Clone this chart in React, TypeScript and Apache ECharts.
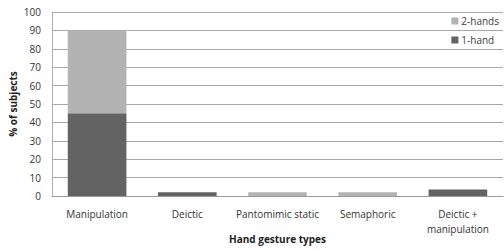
import React, { useEffect, useRef } from "react";
import * as echarts from "echarts";

const categories = ["Manipulation", "Deictic", "Pantomimic static", "Semaphoric", "Deictic +\nmanipulation"];
const oneHand = [45, 2, 0, 0, 3.6];
const twoHands = [45, 0, 2, 2, 0];
const yTicks = { min: 0, max: 100, interval: 10 };

export default function App() {
  const ref = useRef<HTMLDivElement>(null);
  useEffect(() => {
    if (!ref.current) return;
    const chart = echarts.init(ref.current, undefined, { renderer: "svg" });
    const font = "'Open Sans', 'Liberation Sans', sans-serif";
    chart.setOption({
      animation: false,
      backgroundColor: "#ffffff",
      textStyle: { fontFamily: font },
      grid: { left: 52, right: 1, top: 12, bottom: 55, containLabel: false, outerBoundsMode: "none" },
      legend: {
        orient: "vertical",
        right: 0,
        top: 11,
        itemWidth: 7,
        itemHeight: 7,
        itemGap: 9,
        icon: "rect",
        textStyle: { fontSize: 10, color: "#404040", fontFamily: font, padding: [0, 0, 0, -2] },
        data: ["2-hands", "1-hand"],
      },
      xAxis: {
        type: "category",
        data: categories,
        name: "Hand gesture types",
        nameLocation: "middle",
        nameGap: 38,
        nameMoveOverlap: false,
        nameTextStyle: { fontSize: 10, fontWeight: "bold", color: "#222", fontFamily: font },
        axisLine: { lineStyle: { color: "#9a9a9a" } },
        axisTick: { show: false },
        axisLabel: { fontSize: 10, color: "#333", margin: 10, lineHeight: 15, interval: 0, fontFamily: font },
      },
      yAxis: {
        type: "value",
        min: yTicks.min,
        max: yTicks.max,
        interval: yTicks.interval,
        name: "% of subjects",
        nameLocation: "middle",
        nameGap: 34,
        nameMoveOverlap: false,
        nameRotate: 90,
        nameTextStyle: { fontSize: 10, fontWeight: "bold", color: "#222", fontFamily: font },
        axisLine: { show: true, lineStyle: { color: "#b0b0b0" } },
        axisTick: { show: false },
        axisLabel: { fontSize: 10, color: "#333", margin: 11, fontFamily: font },
        splitLine: { lineStyle: { color: "#a8a8a8" } },
      },
      series: [
        {
          name: "1-hand",
          type: "bar",
          stack: "total",
          data: oneHand,
          barWidth: "65%",
          itemStyle: { color: "#636363" },
        },
        {
          name: "2-hands",
          type: "bar",
          stack: "total",
          data: twoHands,
          barWidth: "65%",
          itemStyle: { color: "#b3b3b3" },
        },
      ],
    });
    return () => chart.dispose();
  }, []);
  return <div ref={ref} style={{ width: 504, height: 251, position: "absolute", left: 0, top: 0 }} />;
}
